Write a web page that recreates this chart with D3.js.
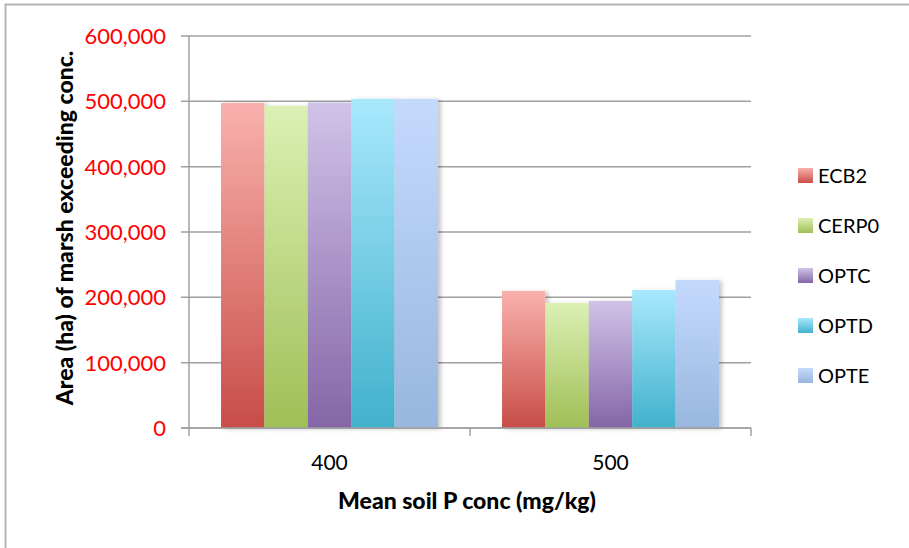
<!DOCTYPE html>
<html>
<head>
<meta charset="utf-8">
<script src="https://cdn.jsdelivr.net/npm/d3@7"></script>
<style>
  body { margin: 0; background: white; }
  text { font-family: Lato, "Open Sans", sans-serif; }
</style>
</head>
<body>
<div id="container"></div>
<script>
let w = 909;
let h = 548;

// data
let categories = ["400", "500"];
let seriesNames = ["ECB2", "CERP0", "OPTC", "OPTD", "OPTE"];
let ecb2 = [497700, 209800];
let cerp0 = [493100, 191400];
let optc = [498200, 194500];
let optd = [503800, 211300];
let opte = [503800, 226600];
let yTicks = [0, 100000, 200000, 300000, 400000, 500000, 600000];

let seriesValues = [ecb2, cerp0, optc, optd, opte];
let topColors = ["#f9b1ad", "#dcf0b4", "#d0c3e8", "#a8e8fd", "#c4dafd"];
let bottomColors = ["#c84d48", "#9fbf56", "#8565a7", "#42b1cc", "#98b6de"];

let viz = d3.select("#container")
  .append("svg")
    .attr("width", w)
    .attr("height", h)
    .style("background-color", "white")
;

let defs = viz.append("defs");
seriesNames.forEach(function(name, i){
  let g = defs.append("linearGradient")
    .attr("id", "grad" + i)
    .attr("x1", 0).attr("y1", 0).attr("x2", 0).attr("y2", 1);
  g.append("stop").attr("offset", "0%").attr("stop-color", topColors[i]);
  g.append("stop").attr("offset", "100%").attr("stop-color", bottomColors[i]);
});
let shadow = defs.append("filter").attr("id", "shadow")
  .attr("x", "-10%").attr("y", "-10%").attr("width", "130%").attr("height", "120%");
shadow.append("feDropShadow")
  .attr("dx", 3).attr("dy", 1).attr("stdDeviation", 2)
  .attr("flood-color", "#000").attr("flood-opacity", 0.22);

// outer frame (only top and left visible)
viz.append("rect")
  .attr("x", 5.5).attr("y", 4.5)
  .attr("width", 1000).attr("height", 1000)
  .attr("fill", "none")
  .attr("stroke", "#b5b5b5")
  .attr("stroke-width", 2);

let plotLeft = 189, plotRight = 751, plotTop = 36, plotBottom = 428;

let xScale = d3.scaleBand().domain(categories).range([plotLeft, plotRight])
  .paddingInner(0.228).paddingOuter(0.114);
let xInner = d3.scaleBand().domain(seriesNames).range([0, xScale.bandwidth()]);
let yScale = d3.scaleLinear().domain([0, 600000]).range([plotBottom, plotTop]);

// gridlines
viz.append("g").selectAll("line").data(yTicks).enter()
  .append("line")
    .attr("x1", plotLeft - 8)
    .attr("x2", plotRight)
    .attr("y1", function(d){ return yScale(d); })
    .attr("y2", function(d){ return yScale(d); })
    .attr("stroke", "#a0a0a0")
    .attr("stroke-width", 1.5)
;

// y axis line
viz.append("line")
  .attr("x1", plotLeft).attr("x2", plotLeft)
  .attr("y1", plotTop).attr("y2", plotBottom)
  .attr("stroke", "#a0a0a0").attr("stroke-width", 1.5);

// x axis ticks at category boundaries
let xBoundaries = [plotLeft].concat(categories.map(function(c){ return xScale(c) + xScale.bandwidth() + xScale.step() * 0.114; }));
viz.append("g").selectAll("line").data(xBoundaries).enter()
  .append("line")
    .attr("x1", function(d){ return d; })
    .attr("x2", function(d){ return d; })
    .attr("y1", plotBottom)
    .attr("y2", plotBottom + 8)
    .attr("stroke", "#a0a0a0")
    .attr("stroke-width", 1.5)
;

// bars
let barData = [];
categories.forEach(function(c, ci){
  seriesNames.forEach(function(s, si){
    barData.push({cat: c, series: s, si: si, value: seriesValues[si][ci]});
  });
});

viz.append("g").selectAll("rect").data(barData).enter()
  .append("rect")
    .attr("x", function(d){ return xScale(d.cat) + xInner(d.series); })
    .attr("y", function(d){ return yScale(d.value); })
    .attr("width", xInner.bandwidth())
    .attr("height", function(d){ return plotBottom - yScale(d.value); })
    .attr("fill", function(d){ return "url(#grad" + d.si + ")"; })
    .attr("filter", "url(#shadow)")
;

// redraw x axis line on top
viz.append("line")
  .attr("x1", plotLeft - 8).attr("x2", plotRight)
  .attr("y1", plotBottom).attr("y2", plotBottom)
  .attr("stroke", "#a0a0a0").attr("stroke-width", 1.5);

// y tick labels
viz.append("g").selectAll("text").data(yTicks).enter()
  .append("text")
    .text(function(d){ return d3.format(",")(d); })
    .attr("x", 166)
    .attr("y", function(d){ return yScale(d) + 8; })
    .attr("text-anchor", "end")
    .attr("font-size", 22)
    .attr("fill", "#ff0000")
;

// x tick labels
viz.append("g").selectAll("text").data(categories).enter()
  .append("text")
    .text(function(d){ return d; })
    .attr("x", function(d){ return xScale(d) + xScale.bandwidth() / 2; })
    .attr("y", 470)
    .attr("text-anchor", "middle")
    .attr("font-size", 21)
    .attr("fill", "#000")
;

// axis titles
viz.append("text")
  .text("Mean soil P conc (mg/kg)")
  .attr("x", 467)
  .attr("y", 509)
  .attr("text-anchor", "middle")
  .attr("font-size", 23)
  .attr("font-weight", 900);

viz.append("text")
  .text("Area (ha) of marsh exceeding conc.")
  .attr("transform", "translate(73," + 228 + ") rotate(-90)")
  .attr("text-anchor", "middle")
  .attr("font-size", 23)
  .attr("font-weight", 900);

// legend
let legend = viz.append("g").selectAll("g").data(seriesNames).enter()
  .append("g")
    .attr("transform", function(d, i){ return "translate(798," + (168 + i * 50) + ")"; })
;
legend.append("rect")
  .attr("width", 15).attr("height", 15)
  .attr("fill", function(d, i){ return "url(#grad" + i + ")"; });
legend.append("text")
  .text(function(d){ return d; })
  .attr("x", 20)
  .attr("y", 15)
  .attr("font-size", 20)
  .attr("fill", "#000");
</script>
</body>
</html>
